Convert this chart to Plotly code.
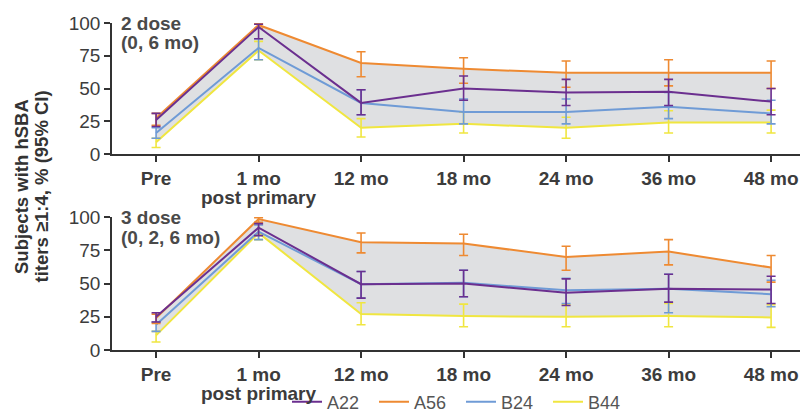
import plotly.graph_objects as go

categories = ["Pre", "1 mo", "12 mo", "18 mo", "24 mo", "36 mo", "48 mo"]
sublabels = ["", "post primary", "", "", "", "", ""]
xpos = list(range(len(categories)))
series_names = ["A22", "A56", "B24", "B44"]
colors = {"A22": "#6b2f8f", "A56": "#ee8a32", "B24": "#6f9bd6", "B44": "#f0e640"}

# 2 dose (0, 6 mo)
d2_val = {
    "A22": [26, 97, 39, 50, 47, 47.5, 40],
    "A56": [27.5, 98.5, 69.5, 65, 62, 62, 62],
    "B24": [16, 81, 39, 32, 32, 36, 31],
    "B44": [9, 79, 20, 23, 20, 24, 24],
}
d2_hi = {
    "A22": [31, 99, 49, 59.5, 57, 57, 50],
    "A56": [31, 99.5, 78, 73.5, 71, 72, 71],
    "B24": [20, 88, 49, 42, 42, 47, 41],
    "B44": [12, 86, 27, 32, 28, 33, 33.5],
}
d2_lo = {
    "A22": [21, 88, 30, 41, 37, 37, 30],
    "A56": [22, 96, 59, 54, 51, 52, 50],
    "B24": [12, 72, 30, 23, 23, 27, 23],
    "B44": [5, 72, 13, 16, 12, 16, 16],
}

# 3 dose (0, 2, 6 mo)
d3_val = {
    "A22": [25, 92, 49.5, 50, 43, 46, 45.5],
    "A56": [24, 98.5, 81, 80, 70, 74, 62],
    "B24": [19, 89, 49.5, 50.5, 45, 46, 42],
    "B44": [11, 88, 27, 25.5, 25, 25.5, 24.5],
}
d3_hi = {
    "A22": [28, 95, 59, 60, 53.5, 57, 55.5],
    "A56": [27, 99.5, 88, 87, 78, 83, 71],
    "B24": [21, 94, 59, 60, 54, 57, 52.5],
    "B44": [14, 95, 35.5, 34.5, 34, 35, 34],
}
d3_lo = {
    "A22": [21, 86, 39, 40, 33.5, 36, 35],
    "A56": [20, 96, 73, 71, 60, 64, 51],
    "B24": [14, 83, 39, 40, 35, 28, 32.5],
    "B44": [6, 83, 19, 17.5, 17.5, 17.5, 17],
}

panel_labels = [["2 dose", "(0, 6 mo)"], ["3 dose", "(0, 2, 6 mo)"]]
ytitle_lines = ["Subjects with hSBA", "titers ≥1:4, % (95% CI)"]
yticks = [0, 25, 50, 75, 100]

# page places the figure at an 8px body margin
OFF = 8
W, H = 808 - OFF, 414 - OFF
FONT = "Liberation Sans, Arial, sans-serif"
TXT = "#3c3c3c"


def px(X):
    return (X - OFF) / W


def py(Y):
    return (H - (Y - OFF)) / H


fig = go.Figure()

panels = [
    (d2_val, d2_hi, d2_lo, "x", "y"),
    (d3_val, d3_hi, d3_lo, "x2", "y2"),
]

for pi, (val, hi, lo, xa, ya) in enumerate(panels):
    # grey envelope between A56 and B44
    fig.add_trace(go.Scatter(
        x=xpos + xpos[::-1],
        y=val["A56"] + val["B44"][::-1],
        fill="toself", fillcolor="#dfe0e2", mode="none",
        line=dict(width=0), showlegend=False, hoverinfo="skip",
        xaxis=xa, yaxis=ya,
    ))
    for name in ["B44", "B24", "A56", "A22"]:
        v = val[name]
        fig.add_trace(go.Scatter(
            x=xpos, y=v, mode="lines", name=name,
            line=dict(color=colors[name], width=2),
            error_y=dict(
                type="data", symmetric=False,
                array=[h - a for h, a in zip(hi[name], v)],
                arrayminus=[a - l for a, l in zip(v, lo[name])],
                color=colors[name], thickness=1.6, width=4.5,
            ),
            showlegend=False, cliponaxis=False,
            xaxis=xa, yaxis=ya,
        ))

# legend entries
for name in series_names:
    fig.add_trace(go.Scatter(
        x=[None], y=[None], mode="lines", name=name,
        line=dict(color=colors[name], width=2),
        xaxis="x2", yaxis="y2", showlegend=True,
    ))

AX_Y = [154, 350]      # pixel rows of the two x axes
TOP_Y = [23, 217]      # pixel rows of y=100
xdom = [px(112), 1.0]
xrange = [-0.43, 6.36]

xaxis_common = dict(
    range=xrange, tickvals=xpos, ticktext=["<b>%s</b>" % c for c in categories],
    showline=True, linecolor="#333333", linewidth=1.5,
    ticks="outside", ticklen=6, tickwidth=1.5, tickcolor="#333333",
    tickfont=dict(family=FONT, size=19, color=TXT),
    showgrid=False, zeroline=False, domain=xdom, fixedrange=True, automargin=False,
)
yaxis_common = dict(
    range=[0, 100], tickvals=yticks,
    showline=True, linecolor="#333333", linewidth=1.5,
    ticks="outside", ticklen=6, tickwidth=1.5, tickcolor="#333333",
    tickfont=dict(family=FONT, size=19, color=TXT),
    showgrid=False, zeroline=False, automargin=False,
)

annotations = []
for pi in range(2):
    xa = "x" if pi == 0 else "x2"
    # second line of category labels
    for xi, sub in zip(xpos, sublabels):
        if sub:
            annotations.append(dict(
                text="<b>%s</b>" % sub, xref=xa, yref="paper", x=xi, y=py(AX_Y[pi] + 43),
                xanchor="center", yanchor="middle", showarrow=False,
                font=dict(family=FONT, size=19, color=TXT)))
    # panel label
    for li, line in enumerate(panel_labels[pi]):
        annotations.append(dict(
            text="<b>%s</b>" % line, xref="paper", yref="paper",
            x=px(119), y=py(TOP_Y[pi] + 20 * li), xanchor="left", yanchor="middle",
            showarrow=False, font=dict(family=FONT, size=19, color="#4a4a4a")))

for li, line in enumerate(ytitle_lines):
    annotations.append(dict(
        text="<b>%s</b>" % line, xref="paper", yref="paper",
        x=px(22 + 19.5 * li), y=py(187), xanchor="center", yanchor="middle", textangle=-90,
        showarrow=False, font=dict(family=FONT, size=18.5, color="#333333")))

fig.update_layout(
    width=W, height=H,
    margin=dict(l=0, r=0, t=0, b=0, autoexpand=False),
    paper_bgcolor="white", plot_bgcolor="white",
    xaxis=dict(**xaxis_common, anchor="y"),
    yaxis=dict(**yaxis_common, domain=[py(AX_Y[0]), py(TOP_Y[0])], anchor="x"),
    xaxis2=dict(**xaxis_common, anchor="y2"),
    yaxis2=dict(**yaxis_common, domain=[py(AX_Y[1]), py(TOP_Y[1])], anchor="x2"),
    showlegend=True,
    legend=dict(
        orientation="h", x=px(287), y=py(402), xanchor="left", yanchor="middle",
        font=dict(family=FONT, size=18, color="#555555"),
        entrywidth=42, entrywidthmode="pixels", itemwidth=30,
        bgcolor="rgba(0,0,0,0)",
    ),
    annotations=annotations,
)

fig.write_html("out.html")
